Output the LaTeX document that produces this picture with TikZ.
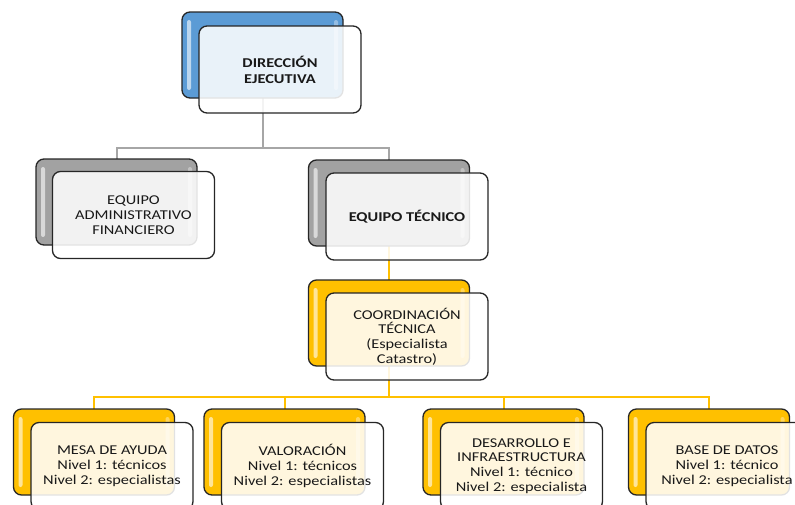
\documentclass[tikz,border=0pt]{standalone}
\usepackage{fontspec}
\setmainfont{Carlito}[FakeStretch=1.21]
\usetikzlibrary{backgrounds}
\definecolor{azul}{HTML}{5B9BD5}
\definecolor{plomo}{HTML}{A2A2A2}
\definecolor{oro}{HTML}{FFC000}
\definecolor{linea}{HTML}{A6A6A6}
\begin{document}
\begin{tikzpicture}[x=1pt, y=-1pt,
  inner sep=0pt, outer sep=0pt,%
  gris line/.style={draw=linea, line width=2pt},
  oro line/.style={draw=oro, line width=2pt},
  back box/.style={draw=black!85, line width=1.3pt, rounded corners=8pt,
    fill=#1, minimum width=161pt, minimum height=86pt,
    path picture={
      \fill[white, opacity=.6, rounded corners=2pt]
        ([xshift=5pt,yshift=-8pt]path picture bounding box.north west)
        rectangle ([xshift=9pt,yshift=8pt]path picture bounding box.south west);
      \fill[white, opacity=.35, rounded corners=2pt]
        ([xshift=-9pt,yshift=-8pt]path picture bounding box.north east)
        rectangle ([xshift=-5pt,yshift=8pt]path picture bounding box.south east);}},
  front box/.style={draw=black!85, line width=1.3pt, rounded corners=8pt,
    fill=white, fill opacity=0.87, text opacity=1, text=black!90,
    minimum width=162pt, minimum height=87pt, align=center,
    font=\fontsize{13.5}{14.8}\selectfont}]

\useasboundingbox (0,0) rectangle (795,504);
\clip (0,0) rectangle (795,504);

\coordinate (barra gris) at (262.5,148);
\coordinate (barra oro) at (389,397);

\node[back box=azul] (dir-b) at (262.5,55) {};
\node[back box=plomo] (adm-b) at (116.5,202) {};
\node[back box=plomo] (tec-b) at (389,203) {};
\node[back box=oro] (coord-b) at (389,323) {};
\node[back box=oro] (mesa-b) at (94,452) {};
\node[back box=oro] (val-b) at (284.5,452) {};
\node[back box=oro] (des-b) at (503.5,452) {};
\node[back box=oro] (bd-b) at (709,452) {};

\begin{pgfonlayer}{background}
\draw[gris line] (dir-b) -- (barra gris);
\draw[gris line] (adm-b) |- (barra gris);
\draw[gris line] (tec-b) |- (barra gris);

\draw[oro line] (tec-b) -- (coord-b);
\draw[oro line] (coord-b) -- (barra oro);
\draw[oro line] (mesa-b) |- (barra oro);
\draw[oro line] (val-b) |- (barra oro);
\draw[oro line] (des-b) |- (barra oro);
\draw[oro line] (bd-b) |- (barra oro);
\end{pgfonlayer}

\node[front box, font=\fontsize{13.5}{16}\selectfont\bfseries] (dir) at (280,69.5) {DIRECCIÓN\\EJECUTIVA};
\node[front box] (adm) at (133.5,215) {EQUIPO\\ADMINISTRATIVO\\FINANCIERO};
\node[front box, font=\fontsize{13.5}{14.8}\selectfont\bfseries] (tec) at (407,216.5) {EQUIPO TÉCNICO};
\node[front box] (coord) at (407,336.5) {COORDINACIÓN\\TÉCNICA\\(Especialista\\Catastro)};

\node[front box] (mesa) at (112,466) {MESA DE AYUDA\\Nivel 1: técnicos\\Nivel 2: especialistas};
\node[front box] (val) at (302.5,466) {VALORACIÓN\\Nivel 1: técnicos\\Nivel 2: especialistas};
\node[front box] (des) at (521.5,466) {DESARROLLO E\\INFRAESTRUCTURA\\Nivel 1: técnico\\Nivel 2: especialista};
\node[front box] (bd) at (727,466) {BASE DE DATOS\\Nivel 1: técnico\\Nivel 2: especialista};

\end{tikzpicture}
\end{document}
